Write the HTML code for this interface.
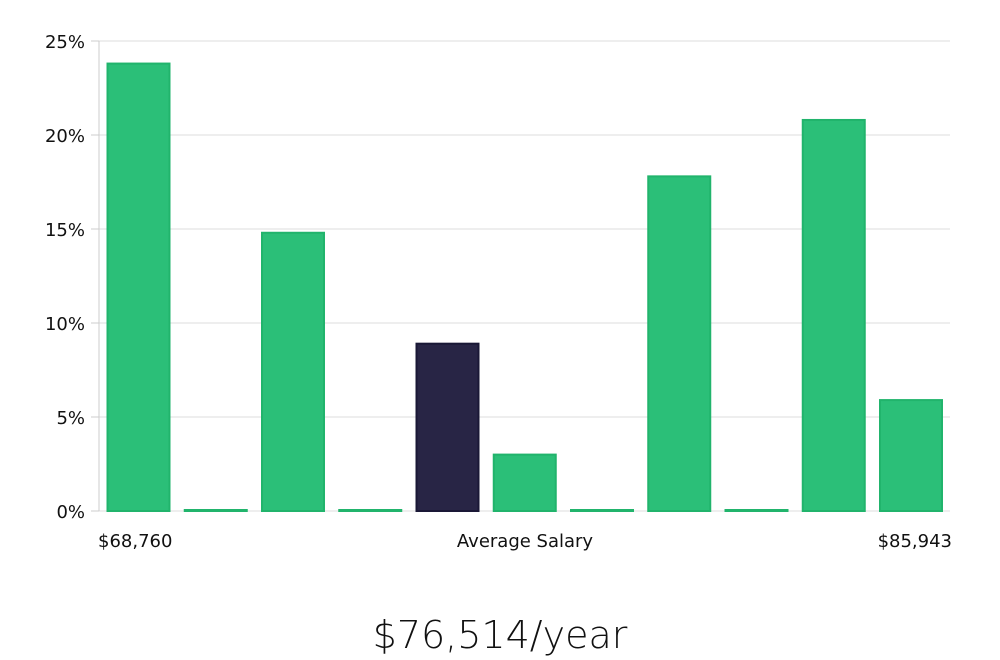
<!DOCTYPE html>
<html><head><meta charset="utf-8"><style>
html,body{margin:0;padding:0;background:#fff;width:1000px;height:660px;overflow:hidden}
svg text{font-family:"DejaVu Sans","Liberation Sans",sans-serif}
</style></head><body>
<svg id="chart" width="1000" height="660" xmlns="http://www.w3.org/2000/svg">
<g id="grid"></g>
<g id="yaxis"></g>
<g id="bars"></g>
<text x="98" y="547" font-size="18" fill="#111">$68,760</text>
<text x="525" y="547" font-size="18" fill="#111" text-anchor="middle">Average Salary</text>
<text x="952" y="547" font-size="18" fill="#111" text-anchor="end">$85,943</text>
<text x="500" y="648" font-size="38" fill="#111" text-anchor="middle" style="font-family:'DejaVu Sans','Liberation Sans',sans-serif;font-weight:300">$76,514/year</text>
</svg>
<script>
const values = [23.8, 0, 14.8, 0, 8.9, 3.0, 0, 17.8, 0, 20.8, 5.9];
const highlightIndex = [4];
const yTicks = [0, 5, 10, 15, 20, 25];
const yTickLabels = ["0%", "5%", "10%", "15%", "20%", "25%"];
const NS = "http://www.w3.org/2000/svg";
const y0 = 511, yMax = 41, vMax = 25;
const x0 = 99, x1 = 950;
function yScale(v){ return y0 - (v / vMax) * (y0 - yMax); }
const firstCenter = 138.5, step = 77.25, barW = 62;
function xScale(i){ return firstCenter + i * step; }
const grid = document.getElementById('grid');
const yaxis = document.getElementById('yaxis');
yTicks.forEach((t, i) => {
  const y = yScale(t);
  const l = document.createElementNS(NS, 'line');
  
  
  l.setAttribute('x1', x0); l.setAttribute('x2', x1);
  l.setAttribute('y1', y); l.setAttribute('y2', y);
  l.setAttribute('stroke', '#dcdcdc'); l.setAttribute('stroke-width', '1');
  grid.appendChild(l);
  const tk = document.createElementNS(NS, 'line');
  
  
  tk.setAttribute('x1', x0 - 8); tk.setAttribute('x2', x0);
  tk.setAttribute('y1', y); tk.setAttribute('y2', y);
  tk.setAttribute('stroke', '#ccc');
  yaxis.appendChild(tk);
  const tx = document.createElementNS(NS, 'text');
  
  
  tx.setAttribute('x', x0 - 14); tx.setAttribute('y', y + 7);
  tx.setAttribute('text-anchor', 'end'); tx.setAttribute('font-size', '18'); tx.setAttribute('fill', '#111');
  tx.textContent = yTickLabels[i];
  yaxis.appendChild(tx);
});
const ax = document.createElementNS(NS, 'line');


ax.setAttribute('x1', x0); ax.setAttribute('x2', x0);
ax.setAttribute('y1', yMax); ax.setAttribute('y2', y0);
ax.setAttribute('stroke', '#ccc');
yaxis.appendChild(ax);
const bars = document.getElementById('bars');
values.forEach((v, i) => {
  const r = document.createElementNS(NS, 'rect');
  
  
  const hi = highlightIndex.includes(i);
  const top = yScale(v);
  r.setAttribute('x', xScale(i) - barW / 2);
  r.setAttribute('y', Math.min(top, y0 - 1));
  r.setAttribute('width', barW);
  r.setAttribute('height', Math.max(y0 - top, 1));
  r.setAttribute('fill', hi ? '#282545' : '#2bbf78');
  r.setAttribute('stroke', hi ? '#1a1836' : '#21b46c');
  r.setAttribute('stroke-width', '2');
  bars.appendChild(r);
});
</script>
</body></html>
